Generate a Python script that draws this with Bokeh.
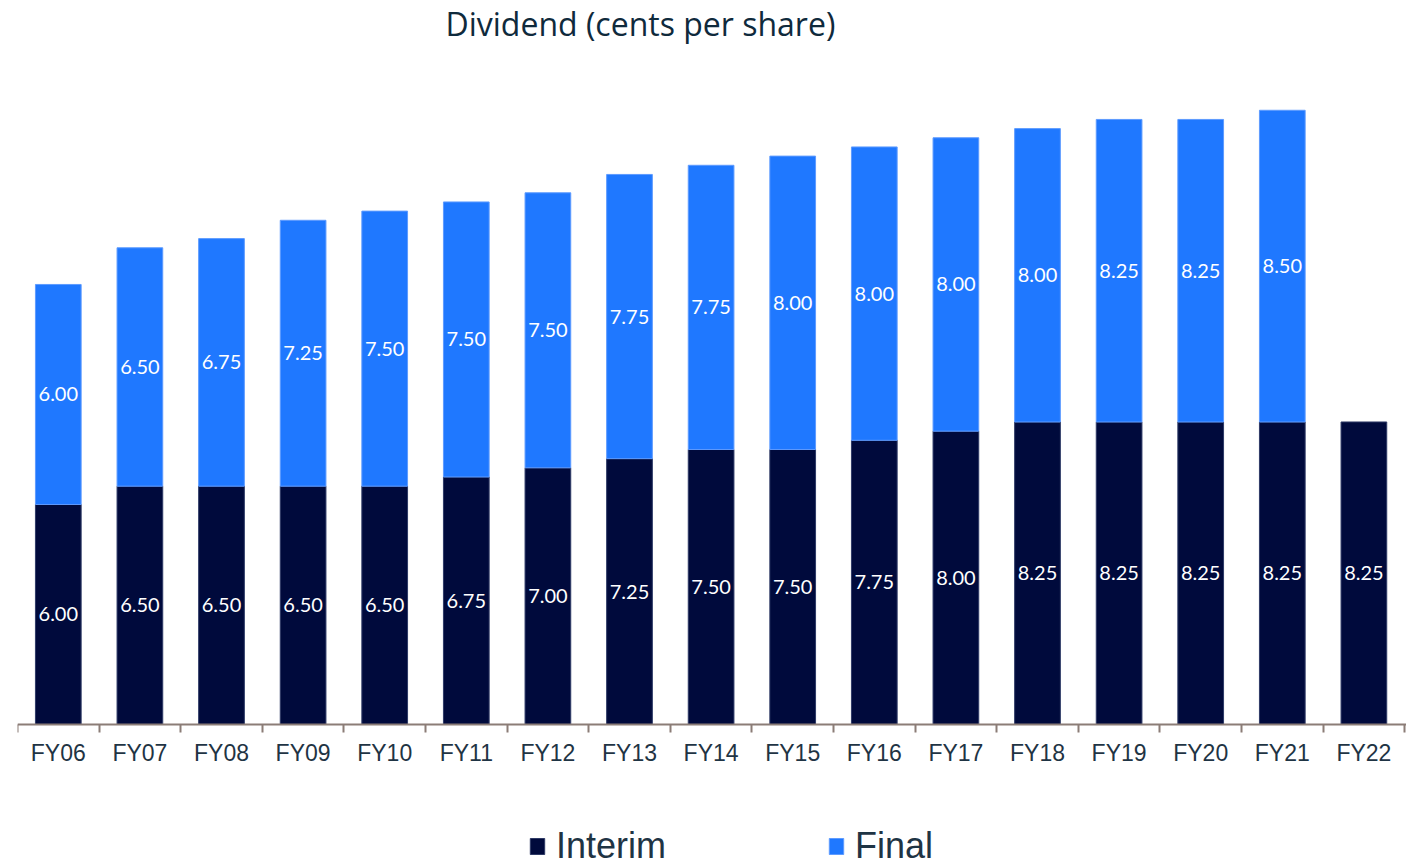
from bokeh.plotting import figure
from bokeh.models import Range1d, FixedTicker, Legend, LegendItem, ColumnDataSource, Label
from bokeh.embed import file_html
from bokeh.resources import INLINE
from bokeh.core.properties import value

title_text = "Dividend (cents per share)"
categories = ["FY06", "FY07", "FY08", "FY09", "FY10", "FY11", "FY12", "FY13", "FY14",
              "FY15", "FY16", "FY17", "FY18", "FY19", "FY20", "FY21", "FY22"]
interim = [6.00, 6.50, 6.50, 6.50, 6.50, 6.75, 7.00, 7.25, 7.50, 7.50, 7.75, 8.00,
           8.25, 8.25, 8.25, 8.25, 8.25]
final = [6.00, 6.50, 6.75, 7.25, 7.50, 7.50, 7.50, 7.75, 7.75, 8.00, 8.00, 8.00,
         8.00, 8.25, 8.25, 8.50]  # FY22 final not yet declared

INTERIM_COLOR = "#000A3C"
FINAL_COLOR = "#1F78FF"
AXIS_COLOR = "#8B7D77"

n = len(categories)
centers = [i + 0.5 for i in range(n)]
boundaries = list(range(n + 1))

# layout constants (pixels)
left_border = 17
frame_w = 1389
frame_top = 0
frame_h = 866
axis_y_px = 724          # pixel row of the zero line
band_px = 81.6
unit_px = 36.67

def px_to_x(px):
    return (px - left_border) / band_px

def px_to_y(py):
    return (axis_y_px - py) / unit_px

p = figure(frame_width=frame_w, frame_height=frame_h, output_backend="svg",
           toolbar_location=None, tools="",
           x_range=Range1d(0, px_to_x(left_border + frame_w)),
           y_range=Range1d(px_to_y(frame_top + frame_h), px_to_y(frame_top)),
           min_border_left=left_border, min_border_right=0,
           min_border_top=frame_top, min_border_bottom=0)
p.outline_line_color = None
p.background_fill_color = "white"
p.border_fill_color = "white"
p.grid.visible = False
p.yaxis.visible = False

# title
p.add_layout(Label(x=px_to_x(445), y=px_to_y(23), text=title_text,
                   text_font="Open Sans", text_font_size="32px",
                   text_color="#0F2A3C", text_align="left",
                   text_baseline="middle"))

# bars
isrc = ColumnDataSource(dict(x=centers, top=interim,
                             ymid=[v / 2 for v in interim],
                             lab=[f"{v:.2f}" for v in interim]))
fx = centers[:len(final)]
fbottom = interim[:len(final)]
ftop = [a + b for a, b in zip(fbottom, final)]
fsrc = ColumnDataSource(dict(x=fx, bottom=fbottom, top=ftop,
                             ymid=[(a + b) / 2 for a, b in zip(fbottom, ftop)],
                             lab=[f"{v:.2f}" for v in final]))

r_int = p.vbar(x="x", top="top", bottom=0, width=0.56, source=isrc,
               fill_color=INTERIM_COLOR, line_color="#2E3A66", line_width=1)
r_fin = p.vbar(x="x", top="top", bottom="bottom", width=0.56, source=fsrc,
               fill_color=FINAL_COLOR, line_color="#5E9BFF", line_width=1)

for src in (isrc, fsrc):
    p.text(x="x", y="ymid", text="lab", source=src, text_color="white",
           text_font=value("Lato"), text_font_size="20px",
           text_align="center", text_baseline="middle")

# axis drawn at y = 0 inside the frame
ax = p.xaxis[0]
ax.fixed_location = 0
ax.ticker = FixedTicker(ticks=centers, minor_ticks=boundaries)
ax.major_label_overrides = {c: lab for c, lab in zip(centers, categories)}
ax.axis_line_color = AXIS_COLOR
ax.axis_line_width = 2
ax.major_tick_line_color = None
ax.major_tick_out = 0
ax.major_tick_in = 0
ax.minor_tick_line_color = AXIS_COLOR
ax.minor_tick_line_width = 2
ax.minor_tick_out = 8
ax.minor_tick_in = 0
ax.major_label_text_font = "Liberation Sans"
ax.major_label_text_font_size = "23px"
ax.major_label_text_color = "#1F3444"
ax.major_label_standoff = 7

legend = Legend(items=[LegendItem(label="Interim", renderers=[r_int]),
                       LegendItem(label="Final", renderers=[r_fin])],
                orientation="horizontal", location=(511, -1),
                glyph_width=18, glyph_height=20, label_standoff=10,
                spacing=161, padding=0, margin=0,
                border_line_color=None, background_fill_alpha=0,
                label_text_font="Liberation Sans", label_text_font_size="36px",
                label_text_color="#1F3444")
p.add_layout(legend, "center")

open("out.html", "w").write(file_html(p, INLINE))
